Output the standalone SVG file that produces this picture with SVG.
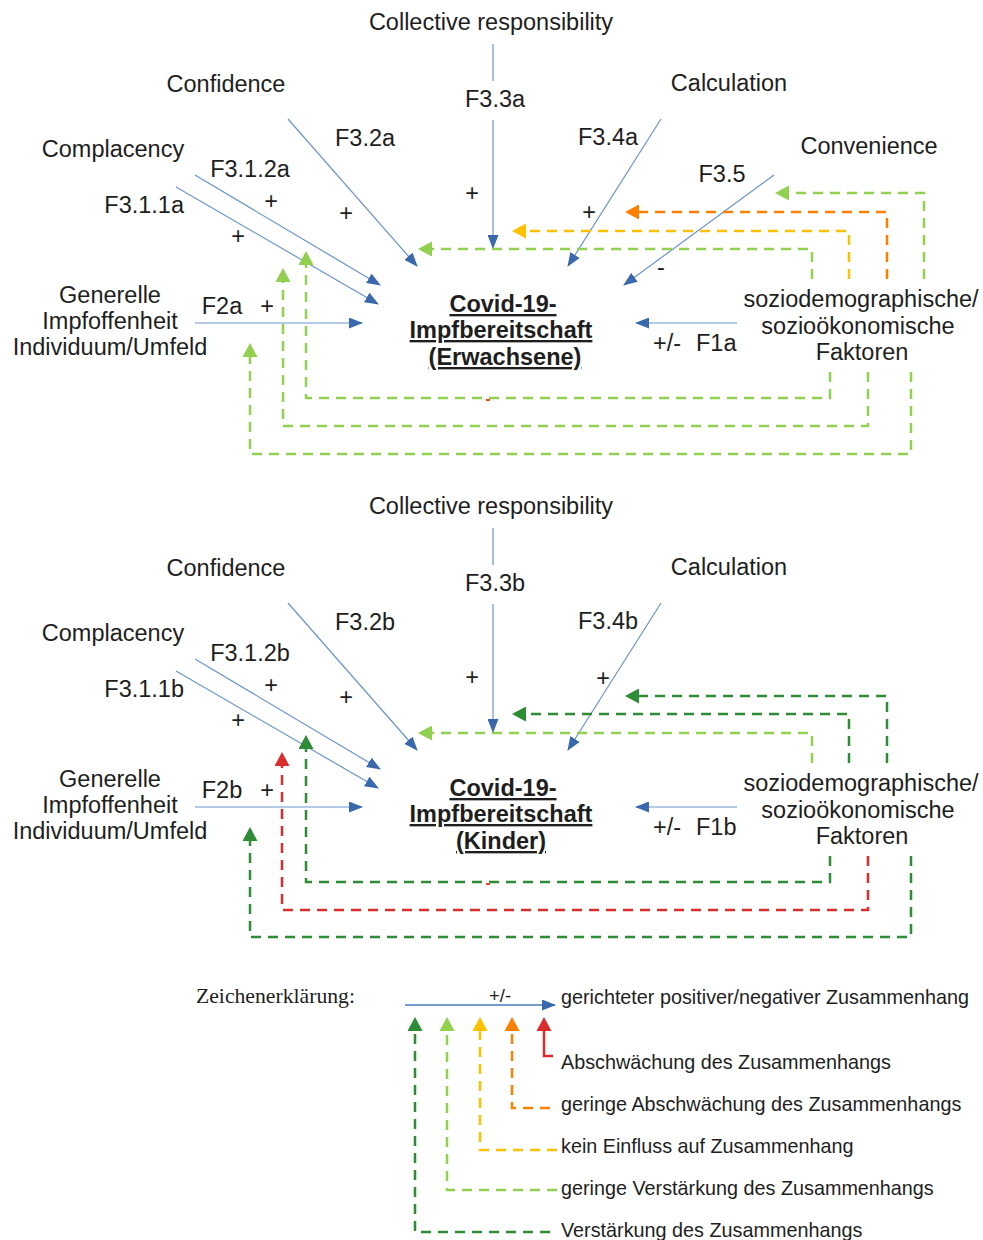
<svg xmlns="http://www.w3.org/2000/svg" width="983" height="1240" viewBox="0 0 983 1240">
<style>
.t{font-family:"Liberation Sans",Arial,sans-serif;font-size:23.5px;fill:#1e1e1e}
.m{text-anchor:middle}
.e{text-anchor:end}
.b{font-weight:bold;text-decoration:underline}
.lg{font-family:"Liberation Sans",Arial,sans-serif;font-size:19.8px;fill:#1e1e1e}
.ser{font-family:"Liberation Serif","Times New Roman",serif;font-size:21.7px;fill:#1e1e1e}
.bl{fill:none;stroke:#6b93cf;stroke-width:1.2}
.d{fill:none;stroke-width:2.5;stroke-dasharray:10 7}
.clg{stroke:#92D050}
.cor{stroke:#FF8000}
.cye{stroke:#FFC000}
.cdg{stroke:#2E8B36}
.crd{stroke:#DC2D2D}
</style>
<defs>
<marker id="mb" markerUnits="userSpaceOnUse" markerWidth="14" markerHeight="11" refX="13" refY="5.5" orient="auto" viewBox="0 0 14 11"><path d="M0,0 L14,5.5 L0,11 z" fill="#3a68ad"/></marker>
<marker id="mlg" markerUnits="userSpaceOnUse" markerWidth="15" markerHeight="15" refX="0" refY="7.5" orient="auto" viewBox="0 0 15 15"><path d="M0,0 L14,7.5 L0,15 z" fill="#92D050"/></marker>
<marker id="mor" markerUnits="userSpaceOnUse" markerWidth="15" markerHeight="15" refX="0" refY="7.5" orient="auto" viewBox="0 0 15 15"><path d="M0,0 L14,7.5 L0,15 z" fill="#FF8000"/></marker>
<marker id="mye" markerUnits="userSpaceOnUse" markerWidth="15" markerHeight="15" refX="0" refY="7.5" orient="auto" viewBox="0 0 15 15"><path d="M0,0 L14,7.5 L0,15 z" fill="#FFC000"/></marker>
<marker id="mdg" markerUnits="userSpaceOnUse" markerWidth="15" markerHeight="15" refX="0" refY="7.5" orient="auto" viewBox="0 0 15 15"><path d="M0,0 L14,7.5 L0,15 z" fill="#2E8B36"/></marker>
<marker id="mrd" markerUnits="userSpaceOnUse" markerWidth="15" markerHeight="15" refX="0" refY="7.5" orient="auto" viewBox="0 0 15 15"><path d="M0,0 L14,7.5 L0,15 z" fill="#DC2D2D"/></marker>
</defs>
<rect width="983" height="1240" fill="#ffffff"/>

<!-- ===== Section 1 nodes ===== -->
<g id="collective-a"><text class="t m" x="491" y="30">Collective responsibility</text></g>
<g id="confidence-a"><text class="t m" x="226" y="92">Confidence</text></g>
<g id="calculation-a"><text class="t m" x="729" y="91">Calculation</text></g>
<g id="complacency-a"><text class="t m" x="113" y="157">Complacency</text></g>
<g id="convenience-a"><text class="t m" x="869" y="154">Convenience</text></g>
<g id="generelle-a"><text class="t m" x="110" y="303">Generelle</text><text class="t m" x="110" y="329">Impfoffenheit</text><text class="t m" x="110" y="355">Individuum/Umfeld</text></g>
<g id="target-a"><text class="t m b" x="503" y="312">Covid-19-</text><text class="t m b" x="501" y="338">Impfbereitschaft</text><text class="t m b" x="505" y="365">(Erwachsene)</text></g>
<g id="sozio-a"><text class="t m" x="861" y="307">soziodemographische/</text><text class="t m" x="858" y="334">sozioökonomische</text><text class="t m" x="862" y="360">Faktoren</text></g>

<!-- ===== Section 2 nodes ===== -->
<g id="collective-b"><text class="t m" x="491" y="514">Collective responsibility</text></g>
<g id="confidence-b"><text class="t m" x="226" y="576">Confidence</text></g>
<g id="calculation-b"><text class="t m" x="729" y="575">Calculation</text></g>
<g id="complacency-b"><text class="t m" x="113" y="641">Complacency</text></g>
<g id="generelle-b"><text class="t m" x="110" y="787">Generelle</text><text class="t m" x="110" y="813">Impfoffenheit</text><text class="t m" x="110" y="839">Individuum/Umfeld</text></g>
<g id="target-b"><text class="t m b" x="503" y="796">Covid-19-</text><text class="t m b" x="501" y="822">Impfbereitschaft</text><text class="t m b" x="501" y="849">(Kinder)</text></g>
<g id="sozio-b"><text class="t m" x="861" y="791">soziodemographische/</text><text class="t m" x="858" y="818">sozioökonomische</text><text class="t m" x="862" y="844">Faktoren</text></g>

<!-- ===== Connectors ===== -->
<g id="connectors">
  <!-- section 1 blue -->
  <path class="bl" d="M493,44 V81"/>
  <path class="bl" d="M493,120 V248" marker-end="url(#mb)"/>
  <path class="bl" d="M288,119 L417,266" marker-end="url(#mb)"/>
  <path class="bl" d="M195,175 L380,285" marker-end="url(#mb)"/>
  <path class="bl" d="M176,187 L378,304" marker-end="url(#mb)"/>
  <path class="bl" d="M195,323 H362" marker-end="url(#mb)"/>
  <path class="bl" d="M661,119 L568,266" marker-end="url(#mb)"/>
  <path class="bl" d="M774,175 L624,285" marker-end="url(#mb)"/>
  <path class="bl" d="M737,323 H636" marker-end="url(#mb)"/>
  <!-- section 1 dashed -->
  <path class="d clg" d="M924,279 V193 H789" marker-end="url(#mlg)"/>
  <path class="d cor" d="M887,279 V212 H639" marker-end="url(#mor)"/>
  <path class="d cye" d="M849,279 V231 H526" marker-end="url(#mye)"/>
  <path class="d clg" d="M812,279 V249 H432" marker-end="url(#mlg)"/>
  <path class="d clg" d="M830,372 V398 H306 V265" marker-end="url(#mlg)"/>
  <path class="d clg" d="M868,372 V426 H283 V282" marker-end="url(#mlg)"/>
  <path class="d clg" d="M911,372 V454 H250 V357" marker-end="url(#mlg)"/>

  <!-- section 2 blue -->
  <path class="bl" d="M493,528 V565"/>
  <path class="bl" d="M493,604 V732" marker-end="url(#mb)"/>
  <path class="bl" d="M288,603 L417,750" marker-end="url(#mb)"/>
  <path class="bl" d="M195,659 L380,769" marker-end="url(#mb)"/>
  <path class="bl" d="M176,671 L378,788" marker-end="url(#mb)"/>
  <path class="bl" d="M195,807 H362" marker-end="url(#mb)"/>
  <path class="bl" d="M661,603 L568,750" marker-end="url(#mb)"/>
  <path class="bl" d="M737,807 H636" marker-end="url(#mb)"/>
  <!-- section 2 dashed -->
  <path class="d cdg" d="M887,763 V696 H639" marker-end="url(#mdg)"/>
  <path class="d cdg" d="M849,763 V714 H526" marker-end="url(#mdg)"/>
  <path class="d clg" d="M812,763 V733 H432" marker-end="url(#mlg)"/>
  <path class="d cdg" d="M830,856 V882 H306 V749" marker-end="url(#mdg)"/>
  <path class="d crd" d="M868,856 V910 H282 V766" marker-end="url(#mrd)"/>
  <path class="d cdg" d="M911,856 V937 H250 V841" marker-end="url(#mdg)"/>
</g>

<!-- tiny red marks -->
<rect x="486" y="399" width="4" height="2" fill="#E8461E"/>
<rect x="486" y="883" width="4" height="2" fill="#E8461E"/>

<!-- ===== Connector labels ===== -->
<g id="labels-a">
  <text class="t m" x="495" y="107">F3.3a</text>
  <text class="t m" x="365" y="146">F3.2a</text>
  <text class="t m" x="608" y="145">F3.4a</text>
  <text class="t m" x="250" y="177">F3.1.2a</text>
  <text class="t m" x="722" y="182">F3.5</text>
  <text class="t e" x="184" y="213">F3.1.1a</text>
  <text class="t m" x="222" y="314">F2a</text>
  <text class="t" x="653" y="351">+/-</text>
  <text class="t" x="696" y="351">F1a</text>
  <text class="t m" x="472" y="201">+</text>
  <text class="t m" x="589" y="220">+</text>
  <text class="t m" x="346" y="221">+</text>
  <text class="t m" x="271" y="209">+</text>
  <text class="t m" x="238" y="244">+</text>
  <text class="t m" x="267" y="314">+</text>
  <text class="t m" x="661" y="275">-</text>
</g>
<g id="labels-b">
  <text class="t m" x="495" y="591">F3.3b</text>
  <text class="t m" x="365" y="630">F3.2b</text>
  <text class="t m" x="608" y="629">F3.4b</text>
  <text class="t m" x="250" y="661">F3.1.2b</text>
  <text class="t e" x="184" y="697">F3.1.1b</text>
  <text class="t m" x="222" y="798">F2b</text>
  <text class="t" x="653" y="835">+/-</text>
  <text class="t" x="696" y="835">F1b</text>
  <text class="t m" x="472" y="685">+</text>
  <text class="t m" x="603" y="686">+</text>
  <text class="t m" x="346" y="705">+</text>
  <text class="t m" x="271" y="693">+</text>
  <text class="t m" x="238" y="728">+</text>
  <text class="t m" x="267" y="798">+</text>
</g>

<!-- ===== Legend ===== -->
<g id="legend">
  <text class="ser" x="196" y="1003">Zeichenerklärung:</text>
  <path d="M405,1005 H555" fill="none" stroke="#4a78c0" stroke-width="1.5" marker-end="url(#mb)"/>
  <text class="lg m" x="500" y="1002" style="font-size:18.5px">+/-</text>
  <text class="lg" x="561" y="1004">gerichteter positiver/negativer Zusammenhang</text>
  <path d="M553,1056 H544 V1031" fill="none" stroke="#DC2D2D" stroke-width="2.5" marker-end="url(#mrd)"/>
  <path class="d cor" d="M550,1108 H512 V1031" marker-end="url(#mor)"/>
  <path class="d cye" d="M557,1150 H480 V1031" marker-end="url(#mye)"/>
  <path class="d clg" d="M557,1190 H447 V1031" marker-end="url(#mlg)"/>
  <path class="d cdg" d="M550,1232 H415 V1031" marker-end="url(#mdg)"/>
  <text class="lg" x="561" y="1069">Abschwächung des Zusammenhangs</text>
  <text class="lg" x="561" y="1111">geringe Abschwächung des Zusammenhangs</text>
  <text class="lg" x="561" y="1153">kein Einfluss auf Zusammenhang</text>
  <text class="lg" x="561" y="1195">geringe Verstärkung des Zusammenhangs</text>
  <text class="lg" x="561" y="1237">Verstärkung des Zusammenhangs</text>
</g>
</svg>
